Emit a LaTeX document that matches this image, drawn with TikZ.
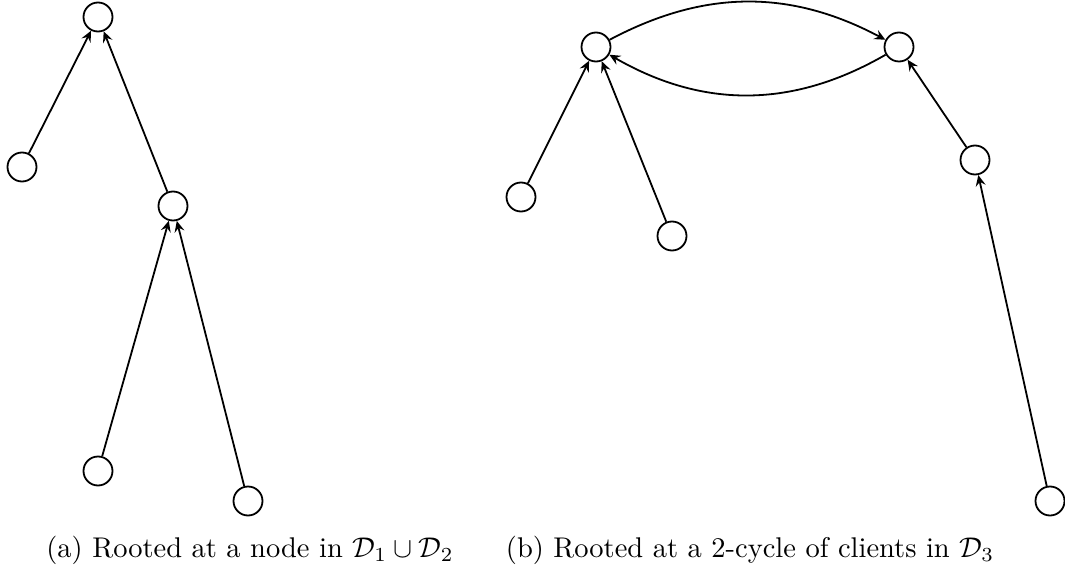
\documentclass[tikz,border=0pt]{standalone}
\usetikzlibrary{arrows.meta}
\begin{document}
\begin{tikzpicture}[x=1pt,y=-1pt,
  vert/.style={circle,draw,line width=1.8pt,minimum size=29pt,inner sep=0pt},
  arr/.style={line width=1.8pt,-{Stealth[length=11pt,width=10pt,inset=4pt]}},
  captext/.style={anchor=base,scale=2.85,inner sep=0pt}]
\useasboundingbox (0,0) rectangle (1065,572);
% (a)
\node[vert] (a1) at (98,17) {};
\node[vert] (a2) at (22,167) {};
\node[vert] (a3) at (173,206) {};
\node[vert] (a4) at (98,471) {};
\node[vert] (a5) at (248,501) {};
\draw[arr] (a2) -- (a1);
\draw[arr] (a3) -- (a1);
\draw[arr] (a4) -- (a3);
\draw[arr] (a5) -- (a3);
% (b)
\node[vert] (b1) at (596,47) {};
\node[vert] (b2) at (899,47) {};
\node[vert] (b3) at (521,197) {};
\node[vert] (b4) at (672,236) {};
\node[vert] (b5) at (975,160) {};
\node[vert] (b6) at (1050,501) {};
\draw[arr] (b1) to[bend left=28] (b2);
\draw[arr] (b2) to[bend left=30] (b1);
\draw[arr] (b3) -- (b1);
\draw[arr] (b4) -- (b1);
\draw[arr] (b5) -- (b2);
\draw[arr] (b6) -- (b5);
% captions
\node[captext] (ca) at (250,557) {(a) Rooted at a node in $\mathcal{D}_1\cup\mathcal{D}_2$};
\node[captext] (cb) at (750,557) {(b) Rooted at a 2-cycle of clients in $\mathcal{D}_3$};
\end{tikzpicture}
\end{document}
